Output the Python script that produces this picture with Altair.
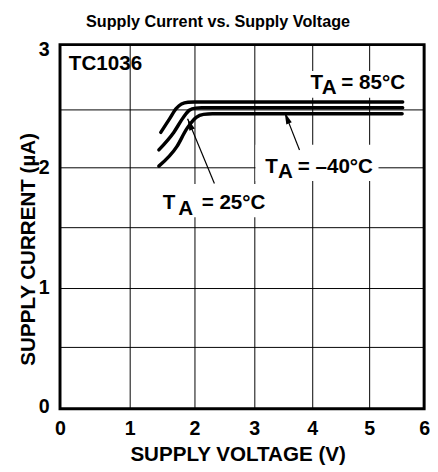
import altair as alt
import pandas as pd

# ---- data ----
volt_85 = [1.48, 1.62, 1.72, 1.80, 1.90, 2.00, 5.61]
curr_85 = [2.30, 2.42, 2.505, 2.54, 2.553, 2.555, 2.555]
volt_25 = [1.45, 1.68, 1.83, 1.92, 2.02, 2.12, 5.61]
curr_25 = [2.15, 2.30, 2.43, 2.49, 2.508, 2.51, 2.51]
volt_m40 = [1.45, 1.73, 1.88, 2.03, 2.15, 2.30, 5.60]
curr_m40 = [2.01, 2.18, 2.33, 2.43, 2.455, 2.46, 2.46]

x_ticks = [0, 1, 2, 3, 4, 5, 6]
y_grid = [0, 0.5, 1, 1.5, 2, 2.5, 3]

# chart title (placed above the plot, in data coordinates)
title_text = ["Supply Current vs. Supply Voltage"]
title_x = [2.394]
title_y = [3.137]

# annotation texts (data coordinates)
txt_text = ["TC1036", "T", "A", "= 85°C", "T", "A", "= –40°C", "T", "A", "= 25°C"]
txt_x = [0.127, 3.968, 4.168, 4.51, 3.19, 3.41, 3.75, 1.51, 1.75, 2.12]
txt_y = [2.804, 2.658, 2.614, 2.658, 1.953, 1.912, 1.953, 1.653, 1.598, 1.653]

# white label backgrounds
box_x1 = [3.80, 3.02, 1.45]
box_x2 = [5.75, 5.17, 3.30]
box_y1 = [2.795, 2.194, 1.861]
box_y2 = [2.589, 1.885, 1.582]

# arrows: tail -> tip
arr_x1 = [3.78, 2.333]
arr_y1 = [2.149, 1.865]
arr_x2 = [3.525, 1.894]
arr_y2 = [2.472, 2.417]
arr_ang = [338.5, 337.5]

FONT = "Liberation Sans"
W, H = 371, 371

xscale = alt.Scale(domain=x_ticks, range=[0, 71, 137, 198, 257, 315, 371], nice=False, zero=False)
yscale = alt.Scale(domain=y_grid, range=[371, 308.3, 248, 186, 125, 65.7, 0], nice=False, zero=False)

xaxis = alt.Axis(values=x_ticks, title="SUPPLY VOLTAGE (V)", grid=True, ticks=False, tickSize=0,
                 domain=False, labelPadding=10, labelFont=FONT, labelFontSize=20,
                 labelFontWeight="bold", labelColor="black", titleFont=FONT, titleFontSize=21,
                 titleFontWeight="bold", titleColor="black", titleX=181, titleY=53,
                 titleBaseline="alphabetic", titleAlign="center", gridColor="black", gridWidth=1,
                 labelFlush=False)
yaxis = alt.Axis(values=y_grid, title="SUPPLY CURRENT (µA)", grid=True, ticks=False, tickSize=0,
                 domain=False, labelPadding=11, labelFont=FONT, labelFontSize=20,
                 labelFontWeight="bold", labelColor="black", labelFlush=False,
                 labelBaseline="middle",
                 labelOffset={"condition": [{"test": "datum.value == 3", "value": 5},
                                            {"test": "datum.value == 0", "value": -2}],
                              "value": 0},
                 labelExpr="datum.value % 1 == 0 ? format(datum.value, 'd') : ''",
                 titleFont=FONT, titleFontSize=21, titleFontWeight="bold", titleColor="black",
                 titleX=-26, titleY=208, titleBaseline="alphabetic", titleAlign="center",
                 titleAngle=270, gridColor="black", gridWidth=1)


def X(f):
    return alt.X(f, type="quantitative", scale=xscale, axis=xaxis)


def Y(f):
    return alt.Y(f, type="quantitative", scale=yscale, axis=yaxis)


curves = pd.concat([
    pd.DataFrame({"v": volt_85, "i": curr_85, "s": "85"}),
    pd.DataFrame({"v": volt_25, "i": curr_25, "s": "25"}),
    pd.DataFrame({"v": volt_m40, "i": curr_m40, "s": "-40"}),
])
texts = pd.DataFrame({"t": txt_text, "x": txt_x, "y": txt_y})
titles = pd.DataFrame({"t": title_text, "x": title_x, "y": title_y})
boxes = pd.DataFrame({"x1": box_x1, "x2": box_x2, "y1": box_y1, "y2": box_y2})
arrows = pd.DataFrame({"x1": arr_x1, "y1": arr_y1, "x2": arr_x2, "y2": arr_y2, "a": arr_ang})

box_layer = alt.Chart(boxes).mark_rect(color="white").encode(
    x=X("x1"), x2="x2", y=Y("y1"), y2="y2")

line_layer = alt.Chart(curves).mark_line(
    color="black", strokeWidth=3.5, strokeCap="round", interpolate="monotone"
).encode(x=X("v"), y=Y("i"), detail="s:N")

rule_layer = alt.Chart(arrows).mark_rule(color="black", strokeWidth=1.2).encode(
    x=X("x1"), y=Y("y1"), x2="x2", y2="y2")

head_layer = alt.Chart(arrows).mark_point(
    shape="M0,0L0.3,1.2L-0.3,1.2Z", filled=True, size=400, color="black", opacity=1
).encode(x=X("x2"), y=Y("y2"), angle=alt.Angle("a", type="quantitative", scale=None))

text_layer = alt.Chart(texts).mark_text(
    align="left", baseline="alphabetic", font=FONT, fontSize=21, fontWeight="bold", color="black"
).encode(x=X("x"), y=Y("y"), text="t:N")

title_layer = alt.Chart(titles).mark_text(
    align="center", baseline="alphabetic", font=FONT, fontSize=16.5, fontWeight="bold",
    color="black", clip=False
).encode(x=X("x"), y=Y("y"), text="t:N")

chart = alt.layer(box_layer, line_layer, rule_layer, head_layer, text_layer, title_layer).properties(
    width=W, height=H,
    autosize=alt.AutoSizeParams(type="none"),
    padding={"left": 53, "top": 33, "right": 6, "bottom": 54},
    background="white",
).configure_view(stroke="black", strokeWidth=3)

chart.save("out.html", embed_options={"renderer": "svg", "actions": False})
